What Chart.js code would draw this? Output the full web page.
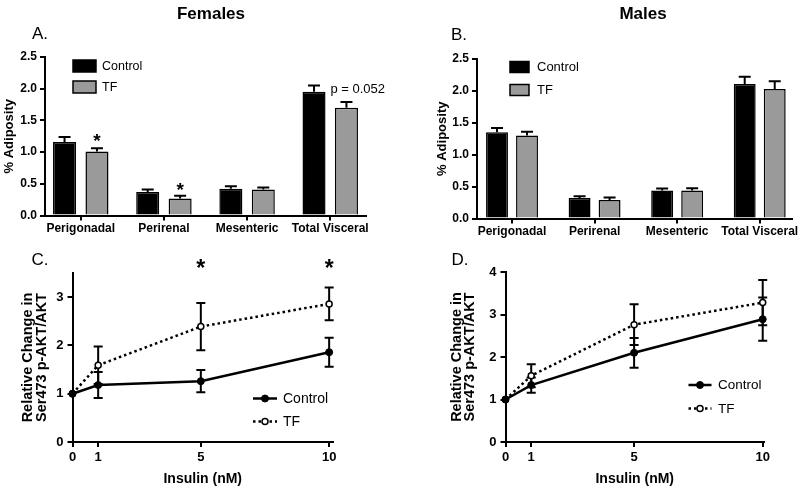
<!DOCTYPE html>
<html><head><meta charset="utf-8">
<script src="https://cdn.jsdelivr.net/npm/chart.js@4/dist/chart.umd.min.js"></script>
<style>
html,body{margin:0;padding:0;background:#fff;}
#wrap{position:relative;width:800px;height:491px;overflow:hidden;font-family:"Liberation Sans",Arial,sans-serif;background:#fff;}
canvas{position:absolute;}
.lbl{position:absolute;white-space:nowrap;transform:translate(-50%,-50%);line-height:1;color:#000;}
</style></head><body>
<div id="wrap">
<canvas id="cA" width="400" height="240" style="left:0;top:0"></canvas>
<canvas id="cB" width="400" height="240" style="left:400px;top:0"></canvas>
<canvas id="cC" width="400" height="251" style="left:0;top:240px"></canvas>
<canvas id="cD" width="400" height="251" style="left:400px;top:240px"></canvas>
<div class="lbl" style="left:211px;top:13px;font-size:17px;font-weight:bold">Females</div>
<div class="lbl" style="left:643px;top:13px;font-size:17px;font-weight:bold">Males</div>
<div class="lbl" style="left:40px;top:33px;font-size:17px">A.</div>
<div class="lbl" style="left:459px;top:34px;font-size:17px">B.</div>
<div class="lbl" style="left:40px;top:259px;font-size:17px">C.</div>
<div class="lbl" style="left:460px;top:259px;font-size:17px">D.</div>
</div>
<script>
// ---------- data ----------
const barCategories = ['Perigonadal', 'Perirenal', 'Mesenteric', 'Total Visceral'];
const adiposityTicks = [0, 0.5, 1, 1.5, 2, 2.5];
const femaleControl = [1.16, 0.37, 0.42, 1.95];
const femaleControlSem = [0.08, 0.04, 0.04, 0.10];
const femaleTF = [1.01, 0.27, 0.41, 1.70];
const femaleTFSem = [0.05, 0.04, 0.03, 0.09];
const maleControl = [1.35, 0.32, 0.44, 2.11];
const maleControlSem = [0.07, 0.03, 0.03, 0.11];
const maleTF = [1.30, 0.29, 0.44, 2.03];
const maleTFSem = [0.06, 0.04, 0.035, 0.12];

const insulinDoses = [0, 1, 5, 10];
const femaleAktControl = [1.00, 1.18, 1.26, 1.86];
const femaleAktControlSem = [0, 0.27, 0.23, 0.30];
const femaleAktTF = [1.00, 1.59, 2.39, 2.86];
const femaleAktTFSem = [0, 0.39, 0.49, 0.34];
const maleAktControl = [1.00, 1.34, 2.10, 2.89];
const maleAktControlSem = [0, 0.18, 0.35, 0.51];
const maleAktTF = [1.00, 1.56, 2.76, 3.28];
const maleAktTFSem = [0, 0.27, 0.48, 0.53];
const aktTicksFemale = [0, 1, 2, 3];
const aktTicksMale = [0, 1, 2, 3, 4];
const seriesNames = ['Control', 'TF'];

// ---------- styling ----------
const FONT = '"Liberation Sans", Arial, Helvetica, sans-serif';
const BLACK = '#000';
const GREY = '#9a9a9a';
Chart.defaults.font.family = FONT;
Chart.defaults.color = BLACK;

// error bars plugin
const errorBars = {
  id: 'errorBars',
  draw(chart, opts) {
    const ctx = chart.ctx, ys = chart.scales.y;
    chart.data.datasets.forEach((ds, i) => {
      if (!ds.errors) return;
      const meta = chart.getDatasetMeta(i);
      meta.data.forEach((el, j) => {
        const e = ds.errors[j];
        if (!e) return;
        const v = ds.data[j].y;
        const yTop = ys.getPixelForValue(v + e);
        const yBot = opts.both ? ys.getPixelForValue(v - e) : el.y;
        ctx.save();
        ctx.strokeStyle = BLACK;
        ctx.lineWidth = opts.width;
        ctx.beginPath();
        ctx.moveTo(el.x, yBot); ctx.lineTo(el.x, yTop);
        ctx.moveTo(el.x - opts.cap, yTop); ctx.lineTo(el.x + opts.cap, yTop);
        if (opts.both) { ctx.moveTo(el.x - opts.cap, yBot); ctx.lineTo(el.x + opts.cap, yBot); }
        ctx.stroke();
        ctx.restore();
      });
    });
  },
  beforeDatasetsDraw(chart, args, opts) { if (opts.before) this.draw(chart, opts); },
  afterDatasetsDraw(chart, args, opts) { if (!opts.before) this.draw(chart, opts); }
};

// annotation marks (asterisks, p-value)
const marks = {
  id: 'marks',
  afterDraw(chart, args, opts) {
    const ctx = chart.ctx, xs = chart.scales.x, ys = chart.scales.y;
    (opts.items || []).forEach(m => {
      let x, y;
      if (m.ds !== undefined) {
        const ds = chart.data.datasets[m.ds];
        const el = chart.getDatasetMeta(m.ds).data[m.idx];
        x = el.x + (m.dx || 0);
        y = ys.getPixelForValue(ds.data[m.idx].y + ds.errors[m.idx]) + m.dy;
      } else {
        x = xs.getPixelForValue(m.xv);
        y = chart.chartArea.top + m.dy;
      }
      ctx.save();
      ctx.font = m.font;
      ctx.fillStyle = BLACK;
      ctx.textAlign = m.align || 'center';
      ctx.textBaseline = 'alphabetic';
      ctx.fillText(m.text, x, y);
      ctx.restore();
    });
  }
};

// custom legends
const customLegend = {
  id: 'customLegend',
  afterDraw(chart, args, o) {
    if (!o.type) return;
    const ctx = chart.ctx;
    chart.data.datasets.forEach((ds, i) => {
      const cy = o.y[i];
      ctx.save();
      if (o.type === 'box') {
        ctx.fillStyle = ds.backgroundColor;
        ctx.fillRect(o.x, cy - o.h / 2, o.w, o.h);
        ctx.strokeStyle = BLACK; ctx.lineWidth = 1.5;
        ctx.strokeRect(o.x, cy - o.h / 2, o.w, o.h);
      } else {
        ctx.strokeStyle = BLACK; ctx.lineWidth = ds.borderWidth;
        ctx.setLineDash(ds.borderDash || []);
        ctx.beginPath(); ctx.moveTo(o.x, cy); ctx.lineTo(o.x + o.w, cy); ctx.stroke();
        ctx.setLineDash([]);
        ctx.beginPath(); ctx.arc(o.x + o.w / 2, cy, ds.pointRadius, 0, Math.PI * 2);
        ctx.fillStyle = ds.pointBackgroundColor; ctx.fill();
        ctx.lineWidth = ds.pointBorderWidth; ctx.stroke();
      }
      ctx.fillStyle = BLACK;
      ctx.font = o.font;
      ctx.textAlign = 'left'; ctx.textBaseline = 'middle';
      ctx.fillText(ds.label, o.textX, cy + 0.5);
      ctx.restore();
    });
  }
};

function axisCommon(fontSize, pad) {
  return {
    border: { display: true, color: BLACK, width: 2 },
    grid: { display: true, drawOnChartArea: false, drawTicks: true, tickLength: 5, tickWidth: 2, tickColor: BLACK, color: BLACK, lineWidth: 2, offset: false },
    ticks: { color: BLACK, font: { family: FONT, size: fontSize, weight: 'bold' }, padding: pad, autoSkip: false, maxRotation: 0, minRotation: 0 }
  };
}

function barChart(id, W, H, area, xMin, xMax, ctrl, ctrlErr, tf, tfErr, catPct, barPct, yTitlePad, legend, markItems) {
  const xc = axisCommon(12, 1), yc = axisCommon(12, 3);
  return new Chart(document.getElementById(id), {
    type: 'bar',
    data: {
      datasets: [
        { label: seriesNames[0], data: ctrl.map((v, i) => ({ x: i, y: v })), errors: ctrlErr,
          backgroundColor: BLACK, borderColor: BLACK, borderWidth: 1.5, categoryPercentage: catPct, barPercentage: barPct },
        { label: seriesNames[1], data: tf.map((v, i) => ({ x: i, y: v })), errors: tfErr,
          backgroundColor: GREY, borderColor: BLACK, borderWidth: 1.5, categoryPercentage: catPct, barPercentage: barPct }
      ]
    },
    options: {
      responsive: false, animation: false, devicePixelRatio: 1,
      layout: { padding: { left: 0, top: area.top, right: W - area.right, bottom: 0 } },
      plugins: {
        legend: { display: false }, tooltip: { enabled: false },
        errorBars: { both: false, cap: 6, width: 2 },
        customLegend: legend,
        marks: { items: markItems }
      },
      scales: {
        x: Object.assign({}, xc, {
          type: 'linear', min: xMin, max: xMax, offset: false,
          afterBuildTicks: s => { s.ticks = barCategories.map((c, i) => ({ value: i })); },
          ticks: Object.assign({}, xc.ticks, { callback: v => barCategories[v] }),
          afterFit: s => { s.height = H - area.bottom; }
        }),
        y: Object.assign({}, yc, {
          min: 0, max: 2.5,
          afterBuildTicks: s => { s.ticks = adiposityTicks.map(v => ({ value: v })); },
          ticks: Object.assign({}, yc.ticks, { callback: v => v.toFixed(1) }),
          title: { display: true, text: '% Adiposity', color: BLACK, font: { family: FONT, size: 13, weight: 'bold' }, padding: { top: yTitlePad, bottom: 0 } },
          afterFit: s => { s.width = area.left; }
        })
      }
    },
    plugins: [errorBars, customLegend, marks]
  });
}

function lineChart(id, W, H, area, xMax, yMax, yTicks, ctrl, ctrlErr, tf, tfErr, yTitlePad, legend, markItems) {
  const xc = axisCommon(13, 3), yc = axisCommon(13, 4);
  return new Chart(document.getElementById(id), {
    type: 'line',
    data: {
      datasets: [
        { label: seriesNames[0], data: insulinDoses.map((d, i) => ({ x: d, y: ctrl[i] })), errors: ctrlErr,
          borderColor: BLACK, borderWidth: 2.5, tension: 0, clip: false, fill: false,
          pointRadius: 3.5, pointBackgroundColor: BLACK, pointBorderColor: BLACK, pointBorderWidth: 1 },
        { label: seriesNames[1], data: insulinDoses.map((d, i) => ({ x: d, y: tf[i] })), errors: tfErr,
          borderColor: BLACK, borderWidth: 2.5, borderDash: [2.5, 3], tension: 0, clip: false, fill: false,
          pointRadius: 3, pointBackgroundColor: '#fff', pointBorderColor: BLACK, pointBorderWidth: 1.5 }
      ]
    },
    options: {
      responsive: false, animation: false, devicePixelRatio: 1,
      layout: { padding: { left: 0, top: area.top, right: W - area.right, bottom: 0 } },
      plugins: {
        legend: { display: false }, tooltip: { enabled: false },
        errorBars: { both: true, cap: 4.5, width: 2, before: true },
        customLegend: legend,
        marks: { items: markItems }
      },
      scales: {
        x: Object.assign({}, xc, {
          type: 'linear', min: 0, max: xMax,
          afterBuildTicks: s => { s.ticks = insulinDoses.map(v => ({ value: v })); },
          ticks: Object.assign({}, xc.ticks, { callback: v => String(v) }),
          title: { display: true, text: 'Insulin (nM)', color: BLACK, font: { family: FONT, size: 14, weight: 'bold' }, padding: { top: 0, bottom: 3 } },
          afterFit: s => { s.height = H - area.bottom; }
        }),
        y: Object.assign({}, yc, {
          type: 'linear', min: 0, max: yMax,
          afterBuildTicks: s => { s.ticks = yTicks.map(v => ({ value: v })); },
          ticks: Object.assign({}, yc.ticks, { callback: v => String(v) }),
          title: { display: true, text: ['Relative Change in', 'Ser473 p-AKT/AKT'], color: BLACK,
                   font: { family: FONT, size: 14.5, weight: 'bold', lineHeight: '13.5px' }, padding: { top: yTitlePad, bottom: 0 } },
          afterFit: s => { s.width = area.left; }
        })
      }
    },
    plugins: [errorBars, customLegend, marks]
  });
}

// Panel A: Females adiposity
barChart('cA', 400, 240, { left: 45, right: 366, top: 57, bottom: 215.5 }, -0.43, 3.43,
  femaleControl, femaleControlSem, femaleTF, femaleTFSem, 0.78, 0.71, 2,
  { type: 'box', x: 73, y: [66, 87], w: 23, h: 12, textX: 102, font: '12.5px ' + FONT },
  [
    { ds: 1, idx: 0, text: '*', font: 'bold 19px ' + FONT, dy: -1 },
    { ds: 1, idx: 1, text: '*', font: 'bold 19px ' + FONT, dy: 0 },
    { ds: 1, idx: 3, text: 'p = 0.052', font: '13px ' + FONT, dy: -9.5, dx: -16, align: 'left' }
  ]);

// Panel B: Males adiposity
barChart('cB', 400, 240, { left: 77, right: 392, top: 59, bottom: 218.5 }, -0.424, 3.39,
  maleControl, maleControlSem, maleTF, maleTFSem, 0.727, 0.73, 35,
  { type: 'box', x: 110, y: [67, 90], w: 19, h: 11, textX: 137, font: '13px ' + FONT },
  []);

// Panel C: Females pAKT
lineChart('cC', 400, 251, { left: 72.5, right: 333, top: 33, bottom: 202 }, 10.15, 3.5, aktTicksFemale,
  femaleAktControl, femaleAktControlSem, femaleAktTF, femaleAktTFSem, 21.5,
  { type: 'line', x: 253, y: [158.5, 181.5], w: 24, textX: 283, font: '14px ' + FONT },
  [
    { xv: 5, text: '*', font: 'bold 23px ' + FONT, dy: 3 },
    { xv: 10, text: '*', font: 'bold 23px ' + FONT, dy: 3 }
  ]);

// Panel D: Males pAKT
lineChart('cD', 400, 251, { left: 105.5, right: 364, top: 32, bottom: 202 }, 10.05, 4, aktTicksMale,
  maleAktControl, maleAktControlSem, maleAktTF, maleAktTFSem, 50,
  { type: 'line', x: 288.5, y: [145, 168.5], w: 23, textX: 318, font: '13.5px ' + FONT },
  []);
</script>
</body></html>
